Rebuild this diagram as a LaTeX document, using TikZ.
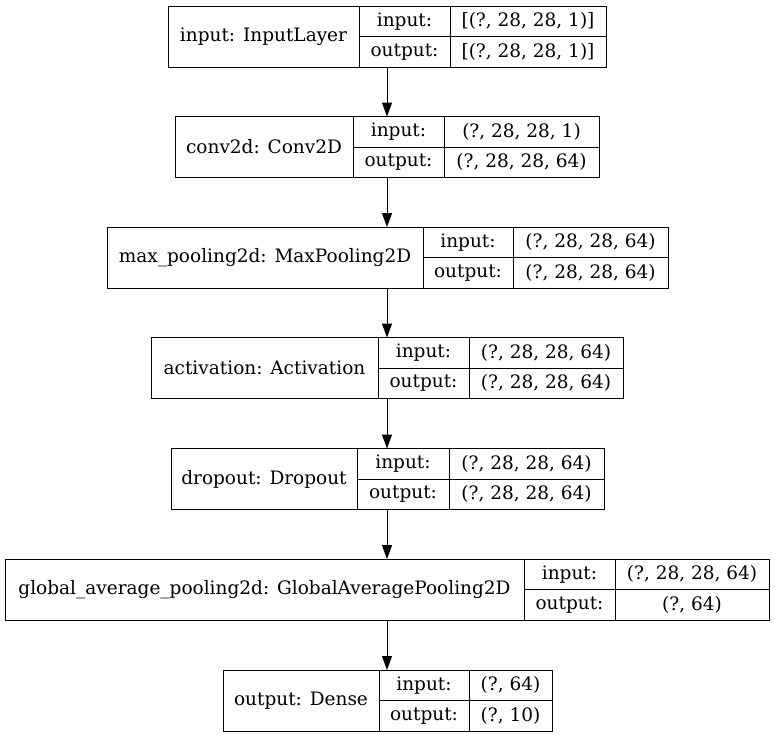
\documentclass[tikz,border=0pt]{standalone}
\usepackage{fontspec}
\setmainfont{DejaVu Serif}
\usetikzlibrary{arrows.meta, positioning, fit}

\tikzset{
  cell/.style={draw, line width=1pt, inner sep=0pt, outer sep=0pt, anchor=north west,
    minimum height=30.5pt, font=\fontsize{18.5}{22}\selectfont},
  namecell/.style={cell, minimum height=61pt},
  layerbox/.style={inner sep=0pt, outer sep=0pt},
  flow/.style={-{Triangle[length=14pt,width=10pt]}, line width=1pt},
}

\begin{document}
\begin{tikzpicture}[x=1pt,y=-1pt]
\useasboundingbox (0,0) rectangle (775,737);

% input
\node[namecell, minimum width=191] (input) at (168,6) {input: InputLayer};
\node[cell, minimum width=91] (inputin) at (input.north east) {input:};
\node[cell, minimum width=91] (inputout) at (inputin.south west) {output:};
\node[cell, minimum width=156] (inputinv) at (inputin.north east) {[(?, 28, 28, 1)]};
\node[cell, minimum width=156] (inputoutv) at (inputout.north east) {[(?, 28, 28, 1)]};
\node[layerbox, fit=(input)(inputoutv)] (inputbox) {};

% conv2d
\node[namecell, minimum width=178] (conv) at (175,116.5) {conv2d: Conv2D};
\node[cell, minimum width=91] (convin) at (conv.north east) {input:};
\node[cell, minimum width=91] (convout) at (convin.south west) {output:};
\node[cell, minimum width=155] (convinv) at (convin.north east) {(?, 28, 28, 1)};
\node[cell, minimum width=155] (convoutv) at (convout.north east) {(?, 28, 28, 64)};
\node[layerbox, fit=(conv)(convoutv)] (convbox) {};

% max pooling
\node[namecell, minimum width=316] (pool) at (107,227) {max\_pooling2d: MaxPooling2D};
\node[cell, minimum width=90] (poolin) at (pool.north east) {input:};
\node[cell, minimum width=90] (poolout) at (poolin.south west) {output:};
\node[cell, minimum width=155] (poolinv) at (poolin.north east) {(?, 28, 28, 64)};
\node[cell, minimum width=155] (pooloutv) at (poolout.north east) {(?, 28, 28, 64)};
\node[layerbox, fit=(pool)(pooloutv)] (poolbox) {};

% activation
\node[namecell, minimum width=227] (act) at (151,337.5) {activation: Activation};
\node[cell, minimum width=91] (actin) at (act.north east) {input:};
\node[cell, minimum width=91] (actout) at (actin.south west) {output:};
\node[cell, minimum width=154] (actinv) at (actin.north east) {(?, 28, 28, 64)};
\node[cell, minimum width=154] (actoutv) at (actout.north east) {(?, 28, 28, 64)};
\node[layerbox, fit=(act)(actoutv)] (actbox) {};

% dropout
\node[namecell, minimum width=186] (drop) at (171,448.5) {dropout: Dropout};
\node[cell, minimum width=92] (dropin) at (drop.north east) {input:};
\node[cell, minimum width=92] (dropout) at (dropin.south west) {output:};
\node[cell, minimum width=155] (dropinv) at (dropin.north east) {(?, 28, 28, 64)};
\node[cell, minimum width=155] (dropoutv) at (dropout.north east) {(?, 28, 28, 64)};
\node[layerbox, fit=(drop)(dropoutv)] (dropbox) {};

% global average pooling
\node[namecell, minimum width=519] (gap) at (5,559) {global\_average\_pooling2d: GlobalAveragePooling2D};
\node[cell, minimum width=91] (gapin) at (gap.north east) {input:};
\node[cell, minimum width=91] (gapout) at (gapin.south west) {output:};
\node[cell, minimum width=154] (gapinv) at (gapin.north east) {(?, 28, 28, 64)};
\node[cell, minimum width=154] (gapoutv) at (gapout.north east) {(?, 64)};
\node[layerbox, fit=(gap)(gapoutv)] (gapbox) {};

% dense output
\node[namecell, minimum width=156] (dense) at (223,670) {output: Dense};
\node[cell, minimum width=90] (densein) at (dense.north east) {input:};
\node[cell, minimum width=90] (denseout) at (densein.south west) {output:};
\node[cell, minimum width=83] (denseinv) at (densein.north east) {(?, 64)};
\node[cell, minimum width=83] (denseoutv) at (denseout.north east) {(?, 10)};
\node[layerbox, fit=(dense)(denseoutv)] (densebox) {};

\draw[flow] (inputbox.south) -- (inputbox.south |- convbox.north);
\draw[flow] (convbox.south) -- (convbox.south |- poolbox.north);
\draw[flow] (poolbox.south -| convbox.south) -- (convbox.south |- actbox.north);
\draw[flow] (actbox.south) -- (actbox.south |- dropbox.north);
\draw[flow] (dropbox.south -| actbox.south) -- (actbox.south |- gapbox.north);
\draw[flow] (gapbox.south) -- (gapbox.south |- densebox.north);

\end{tikzpicture}
\end{document}
